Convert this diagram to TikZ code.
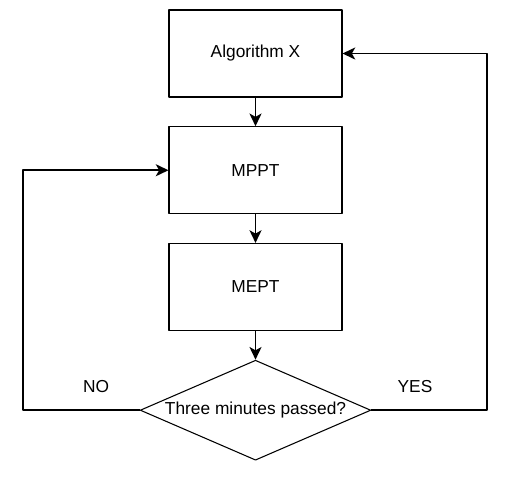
\documentclass[tikz,border=0pt]{standalone}
\usepackage{fontspec}
\setmainfont{Liberation Sans}
\usetikzlibrary{positioning,shapes.geometric,arrows.meta}
\begin{document}
\begin{tikzpicture}[>=stealth, line join=round, x=0.75pt, y=-0.75pt, every node/.style={font=\fontsize{13}{15}\selectfont}, stage/.style={draw, line width=0.8pt, minimum width=129.75pt, minimum height=65.25pt}, check/.style={draw, diamond, shape aspect=2.3, line width=0.8pt, inner sep=0pt, minimum width=173pt, minimum height=75pt}, flow/.style={-{Stealth[length=9.5pt,width=9pt,inset=2.5pt]}, line width=1.4pt}]
		
		\useasboundingbox (0,0) rectangle (531,487);
		
		\node[stage] (algo) at (255.5,53.5) {Algorithm X};
		\node[stage, below=21.5pt of algo] (mppt) {MPPT};
		\node[stage, below=21.5pt of mppt] (mept) {MEPT};
		\node[check, below=21.5pt of mept] (passed) {Three minutes passed?};
		
		\draw[flow] (algo) -- (mppt);
		\draw[flow] (mppt) -- (mept);
		\draw[flow] (mept) -- (passed);
		
		\draw[flow] (passed.west) -- ++(-117,0) |- (mppt.west);
		\draw[flow] (passed.east) -- ++(116,0) |- (algo.east);
		
		\node (no) at (96,387) {NO};
		\node (yes) at (415,387) {YES};
		
	\end{tikzpicture}
\end{document}
